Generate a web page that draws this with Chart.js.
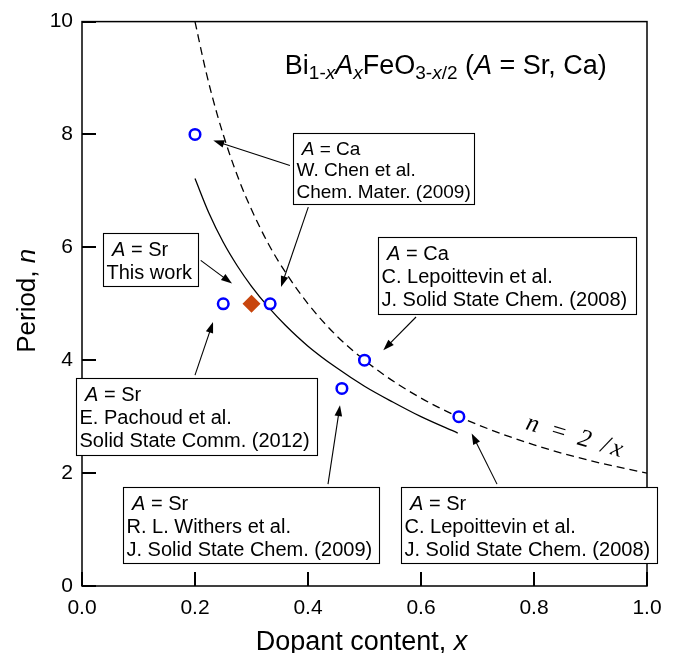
<!DOCTYPE html>
<html>
<head>
<meta charset="utf-8">
<script src="https://cdn.jsdelivr.net/npm/chart.js@4.4.1/dist/chart.umd.min.js"></script>
<style>
  html, body { margin: 0; padding: 0; background: #fff; }
  #wrap { width: 676px; height: 653px; }
</style>
</head>
<body>
<div id="wrap"><canvas id="chart" width="676" height="653"></canvas></div>
<script>
  // literature points (open blue circles)
  const litX = [0.2, 0.25, 0.333, 0.46, 0.5, 0.667];
  const litN = [8, 5, 5, 3.5, 4, 3];
  // this work (diamond)
  const workX = [0.3];
  const workN = [5];
  // dashed guide n = 2/x
  const dashX = [0.2, 0.22, 0.24, 0.26, 0.28, 0.3, 0.33, 0.36, 0.4, 0.45, 0.5, 0.56, 0.63, 0.7, 0.8, 0.9, 1.0];
  const dashN = [10, 9.09, 8.33, 7.69, 7.14, 6.67, 6.06, 5.56, 5.0, 4.44, 4.0, 3.57, 3.17, 2.86, 2.5, 2.22, 2.0];
  // solid curve
  const fitX = [0.2, 0.225, 0.25, 0.275, 0.3, 0.33, 0.36, 0.4, 0.45, 0.5, 0.55, 0.6, 0.665];
  const fitN = [7.22, 6.60, 6.09, 5.67, 5.31, 4.94, 4.62, 4.25, 3.87, 3.54, 3.26, 3.00, 2.71];
  // axis ticks
  const xTicks = [0, 0.2, 0.4, 0.6, 0.8, 1.0];
  const yTicks = [0, 2, 4, 6, 8, 10];

  const FONT = '"Liberation Sans", Arial, Helvetica, sans-serif';

  const notes = [
    { x: 0.3735, y: 8.035, w: 181, h: 71, lh: 21.7, fs: 19,
      lines: [[{ t: ' ' }, { t: 'A', it: true }, { t: ' = Ca' }], 'W. Chen et al.', 'Chem. Mater. (2009)'],
      arrows: [[0.368, 7.451, 0.2324, 7.894], [0.4005, 6.713, 0.3522, 5.297]] },
    { x: 0.0372, y: 6.248, w: 95, h: 53, lh: 23, fs: 20,
      lines: [[{ t: ' ' }, { t: 'A', it: true }, { t: ' = Sr' }], 'This work'],
      arrows: [[0.2101, 5.770, 0.2655, 5.358]] },
    { x: 0.5239, y: 6.177, w: 258, h: 77, lh: 23, fs: 20,
      lines: [[{ t: ' ' }, { t: 'A', it: true }, { t: ' = Ca' }], 'C. Lepoittevin et al.', 'J. Solid State Chem. (2008)'],
      arrows: [[0.5912, 4.766, 0.5333, 4.177]] },
    { x: -0.0106, y: 3.681, w: 241, h: 77, lh: 23, fs: 20,
      lines: [[{ t: ' ' }, { t: 'A', it: true }, { t: ' = Sr' }], 'E. Pachoud et al.', 'Solid State Comm. (2012)'],
      arrows: [[0.2, 3.735, 0.2319, 4.678]] },
    { x: 0.0726, y: 1.752, w: 256, h: 76, lh: 23, fs: 20,
      lines: [[{ t: ' ' }, { t: 'A', it: true }, { t: ' = Sr' }], 'R. L. Withers et al.', 'J. Solid State Chem. (2009)'],
      arrows: [[0.4354, 1.805, 0.4566, 3.204]] },
    { x: 0.5646, y: 1.752, w: 256, h: 76, lh: 23, fs: 20,
      lines: [[{ t: ' ' }, { t: 'A', it: true }, { t: ' = Sr' }], 'C. Lepoittevin et al.', 'J. Solid State Chem. (2008)'],
      arrows: [[0.7345, 1.805, 0.6897, 2.703]] }
  ];

  function richText(ctx, x, y, segs, size, subRatio) {
    const sr = subRatio || 0.66;
    segs.forEach(s => {
      const fs = s.sub ? Math.round(size * sr) : size;
      ctx.font = (s.it ? 'italic ' : '') + fs + 'px ' + FONT;
      ctx.fillText(s.t, x, y + (s.sub ? size * 0.19 : 0));
      x += ctx.measureText(s.t).width;
    });
    return x;
  }

  function arrow(ctx, x1, y1, x2, y2) {
    const a = Math.atan2(y2 - y1, x2 - x1);
    const len = 11, hw = 3.8;
    ctx.beginPath();
    ctx.moveTo(x1, y1);
    ctx.lineTo(x2 - Math.cos(a) * len * 0.8, y2 - Math.sin(a) * len * 0.8);
    ctx.stroke();
    ctx.beginPath();
    ctx.moveTo(x2, y2);
    ctx.lineTo(x2 - Math.cos(a) * len - Math.sin(a) * hw, y2 - Math.sin(a) * len + Math.cos(a) * hw);
    ctx.lineTo(x2 - Math.cos(a) * len + Math.sin(a) * hw, y2 - Math.sin(a) * len - Math.cos(a) * hw);
    ctx.closePath();
    ctx.fill();
  }

  const decor = {
    id: 'decor',
    afterDatasetsDraw(chart) {
      const ctx = chart.ctx;
      const xs = chart.scales.x, ys = chart.scales.y;
      const area = chart.chartArea;
      ctx.save();
      ctx.setLineDash([]);
      ctx.strokeStyle = '#000';
      ctx.fillStyle = '#000';

      // frame
      ctx.lineWidth = 1.5;
      ctx.strokeRect(area.left, area.top, area.right - area.left, area.bottom - area.top);

      // formula title
      ctx.textAlign = 'left';
      ctx.textBaseline = 'alphabetic';
      richText(ctx, xs.getPixelForValue(0.359), ys.getPixelForValue(9.08), [
        { t: 'Bi' }, { t: '1-', sub: true }, { t: 'x', sub: true, it: true },
        { t: 'A', it: true }, { t: 'x', sub: true, it: true },
        { t: 'FeO' }, { t: '3-', sub: true }, { t: 'x', sub: true, it: true }, { t: '/2', sub: true },
        { t: ' (' }, { t: 'A', it: true }, { t: ' = Sr, Ca)' }
      ], 27, 0.7);

      // n = 2/x label
      ctx.save();
      ctx.translate(xs.getPixelForValue(0.874), ys.getPixelForValue(2.637));
      ctx.rotate(16.5 * Math.PI / 180);
      ctx.font = 'italic 25px "Liberation Serif", "Times New Roman", serif';
      ctx.letterSpacing = '3px';
      ctx.textAlign = 'center';
      ctx.textBaseline = 'middle';
      ctx.fillText('n = 2 /x', 0, 0);
      ctx.restore();

      // annotation boxes
      notes.forEach(n => {
        const bx = Math.round(xs.getPixelForValue(n.x)) + 0.5;
        const by = Math.round(ys.getPixelForValue(n.y)) + 0.5;
        ctx.lineWidth = 1.1;
        n.arrows.forEach(a => {
          arrow(ctx, xs.getPixelForValue(a[0]), ys.getPixelForValue(a[1]),
                xs.getPixelForValue(a[2]), ys.getPixelForValue(a[3]));
        });
        ctx.fillStyle = '#fff';
        ctx.fillRect(bx, by, n.w, n.h);
        ctx.strokeRect(bx, by, n.w, n.h);
        ctx.fillStyle = '#000';
        n.lines.forEach((ln, i) => {
          const segs = typeof ln === 'string' ? [{ t: ln }] : ln;
          richText(ctx, bx + 3, by + n.lh - 0.5 + i * n.lh, segs, n.fs);
        });
      });

      // axis titles
      ctx.textAlign = 'left';
      ctx.font = '27px ' + FONT;
      const t1 = 'Dopant content, ';
      const w1 = ctx.measureText(t1).width;
      ctx.font = 'italic 27px ' + FONT;
      const w2 = ctx.measureText('x').width;
      const cx = (area.left + area.right) / 2 - 3;
      richText(ctx, cx - (w1 + w2) / 2, area.bottom + 64, [{ t: t1 }, { t: 'x', it: true }], 27);

      ctx.save();
      ctx.translate(35, (area.top + area.bottom) / 2 - 3);
      ctx.rotate(-Math.PI / 2);
      ctx.font = '26px ' + FONT;
      const w3 = ctx.measureText('Period, ').width;
      ctx.font = 'italic 26px ' + FONT;
      const w4 = ctx.measureText('n').width;
      richText(ctx, -(w3 + w4) / 2, 0, [{ t: 'Period, ' }, { t: 'n', it: true }], 26);
      ctx.restore();

      ctx.restore();
    },
    afterDraw(chart) {
      // inward tick marks
      const ctx = chart.ctx;
      const xs = chart.scales.x, ys = chart.scales.y;
      const area = chart.chartArea;
      ctx.save();
      ctx.fillStyle = '#000';
      xTicks.forEach(v => {
        const px = Math.round(xs.getPixelForValue(v));
        ctx.fillRect(px - 1, area.bottom - 14, 2, 14);
      });
      yTicks.forEach(v => {
        const py = Math.round(ys.getPixelForValue(v));
        ctx.fillRect(area.left, py - 1, 14, 2);
      });
      ctx.restore();
    }
  };

  const pts = (xa, ya) => xa.map((x, i) => ({ x: x, y: ya[i] }));

  new Chart(document.getElementById('chart').getContext('2d'), {
    type: 'scatter',
    data: {
      datasets: [
        { data: pts(dashX, dashN), showLine: true, borderColor: '#000', borderWidth: 1.3,
          borderDash: [8, 5], pointRadius: 0, cubicInterpolationMode: 'monotone', order: 4 },
        { data: pts(fitX, fitN), showLine: true, borderColor: '#000', borderWidth: 1.3,
          pointRadius: 0, cubicInterpolationMode: 'monotone', order: 3 },
        { data: pts(litX, litN), pointStyle: 'circle', pointRadius: 5.3, borderWidth: 2.5,
          borderColor: '#0000ff', backgroundColor: '#fff', order: 2 },
        { data: pts(workX, workN), pointStyle: 'rectRot', pointRadius: 9, borderWidth: 0,
          borderColor: '#c8460e', backgroundColor: '#c8460e', order: 1 }
      ]
    },
    options: {
      responsive: false,
      animation: false,
      devicePixelRatio: 1,
      layout: { padding: { top: 21, right: 29, left: 0, bottom: 0 } },
      plugins: { legend: { display: false }, tooltip: { enabled: false } },
      scales: {
        x: {
          type: 'linear', min: 0, max: 1,
          grid: { display: false, drawTicks: false }, border: { display: false },
          afterBuildTicks: s => { s.ticks = xTicks.map(v => ({ value: v })); },
          afterFit: s => { s.height = 67; },
          ticks: { color: '#000', padding: 10, maxRotation: 0,
            font: { family: FONT, size: 21 }, callback: v => v.toFixed(1) }
        },
        y: {
          type: 'linear', min: 0, max: 10,
          grid: { display: false, drawTicks: false }, border: { display: false },
          afterBuildTicks: s => { s.ticks = yTicks.map(v => ({ value: v })); },
          afterFit: s => { s.width = 82; },
          ticks: { color: '#000', padding: 9,
            font: { family: FONT, size: 21 }, callback: v => String(v) }
        }
      }
    },
    plugins: [decor]
  });
</script>
</body>
</html>
